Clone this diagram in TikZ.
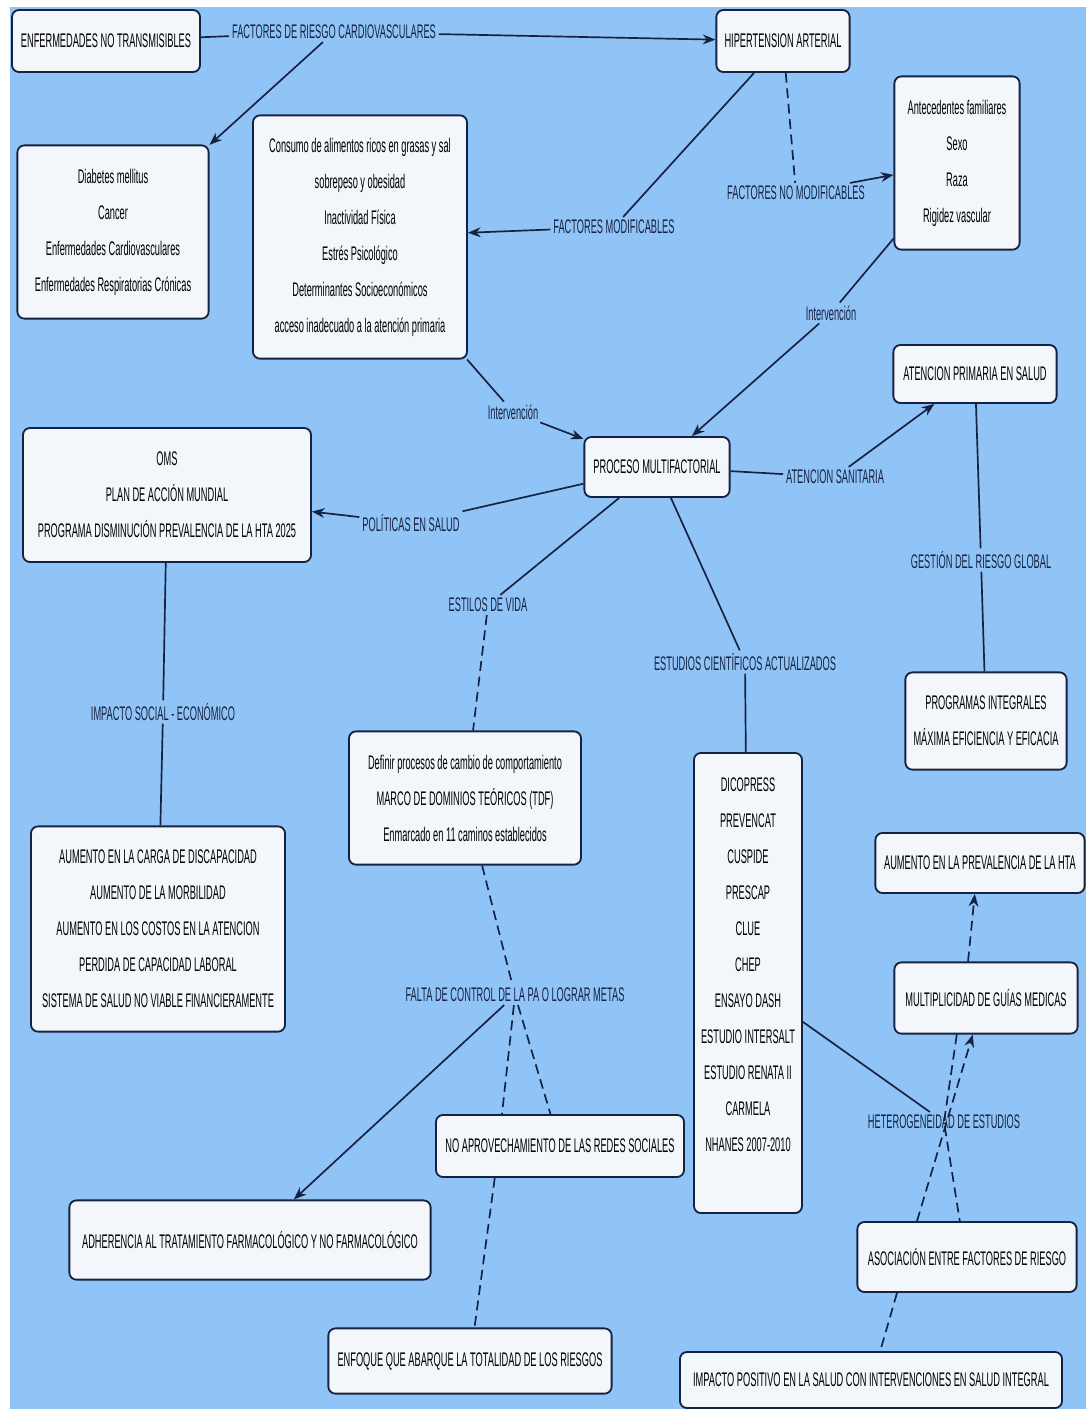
\documentclass[tikz,border=0pt]{standalone}
\usepackage{fontspec}
\setmainfont{Liberation Sans}[FakeStretch=0.47]
\usetikzlibrary{arrows.meta}
\definecolor{mapblue}{RGB}{145,196,246}
\definecolor{boxfill}{RGB}{243,246,250}
\definecolor{linkcol}{RGB}{22,34,66}
\tikzstyle{concept} = [rectangle, rounded corners=5pt, draw=linkcol, line width=1.3pt, fill=boxfill, align=center, text=black, font=\fontsize{14}{25.6}\selectfont]
\tikzstyle{linkword} = [text=linkcol, font=\fontsize{14}{17}\selectfont, inner sep=2pt]
\tikzstyle{link} = [draw=linkcol, line width=1.2pt]
\tikzstyle{dlink} = [link, dash pattern=on 7pt off 4pt]
\tikzstyle{arrow} = [link, ->, >={Stealth[length=9pt,width=7pt]}]

\begin{document}
\begin{tikzpicture}[x=0.025cm, y=-0.025cm]
\useasboundingbox (0,0) rectangle (1086,1409);
\fill[white] (0,0) rectangle (1086,1409);
\fill[mapblue] (10,7) rectangle (1086,1409);

\node (ent) [concept, minimum width=4.7cm, minimum height=1.55cm] at (106,41) {ENFERMEDADES NO TRANSMISIBLES};
\node (hta) [concept, minimum width=3.33cm, minimum height=1.55cm] at (783,41) {HIPERTENSION ARTERIAL};
\node (diab) [concept, minimum width=4.78cm, minimum height=4.33cm] at (113,232) {Diabetes mellitus\\Cancer\\Enfermedades Cardiovasculares\\Enfermedades Respiratorias Crónicas};
\node (cons) [concept, minimum width=5.35cm, minimum height=6.08cm] at (360,237) {Consumo de alimentos ricos en grasas y sal\\sobrepeso y obesidad\\Inactividad Física\\Estrés Psicológico\\Determinantes Socioeconómicos\\acceso inadecuado a la atención primaria};
\node (ante) [concept, minimum width=3.13cm, minimum height=4.33cm] at (957,163) {Antecedentes familiares\\Sexo\\Raza\\Rigidez vascular};
\node (aps) [concept, minimum width=4.08cm, minimum height=1.45cm] at (975,374) {ATENCION PRIMARIA EN SALUD};
\node (pm) [concept, minimum width=3.63cm, minimum height=1.5cm] at (657,467) {PROCESO MULTIFACTORIAL};
\node (oms) [concept, minimum width=7.2cm, minimum height=3.35cm] at (167,495) {OMS\\PLAN DE ACCIÓN MUNDIAL\\PROGRAMA DISMINUCIÓN PREVALENCIA DE LA HTA 2025};
\node (prog) [concept, minimum width=4.03cm, minimum height=2.43cm] at (986,721) {PROGRAMAS INTEGRALES\\MÁXIMA EFICIENCIA Y EFICACIA};
\node (defi) [concept, minimum width=5.8cm, minimum height=3.33cm] at (465,798) {Definir procesos de cambio de comportamiento\\MARCO DE DOMINIOS TEÓRICOS (TDF)\\Enmarcado en 11 caminos establecidos};
\node (estu) [concept, minimum width=2.7cm, minimum height=11.5cm] at (748,983) {DICOPRESS\\PREVENCAT\\CUSPIDE\\PRESCAP\\CLUE\\CHEP\\ENSAYO DASH\\ESTUDIO INTERSALT\\ESTUDIO RENATA II\\CARMELA\\NHANES 2007-2010\\~};
\node (aumhta) [concept, minimum width=5.23cm, minimum height=1.5cm] at (980,863) {AUMENTO EN LA PREVALENCIA DE LA HTA};
\node (carga) [concept, minimum width=6.35cm, minimum height=5.13cm] at (158,929) {AUMENTO EN LA CARGA DE DISCAPACIDAD\\AUMENTO DE LA MORBILIDAD\\AUMENTO EN LOS COSTOS EN LA ATENCION\\PERDIDA DE CAPACIDAD LABORAL\\SISTEMA DE SALUD NO VIABLE FINANCIERAMENTE};
\node (mult) [concept, minimum width=4.58cm, minimum height=1.78cm] at (986,998) {MULTIPLICIDAD DE GUÍAS MEDICAS};
\node (noap) [concept, minimum width=6.2cm, minimum height=1.55cm] at (560,1146) {NO APROVECHAMIENTO DE LAS REDES SOCIALES};
\node (adhe) [concept, minimum width=9.03cm, minimum height=1.98cm] at (250,1240) {ADHERENCIA AL TRATAMIENTO FARMACOLÓGICO Y NO FARMACOLÓGICO};
\node (asoc) [concept, minimum width=5.48cm, minimum height=1.75cm] at (967,1257) {ASOCIACIÓN ENTRE FACTORES DE RIESGO};
\node (enfo) [concept, minimum width=7.08cm, minimum height=1.63cm] at (470,1361) {ENFOQUE QUE ABARQUE LA TOTALIDAD DE LOS RIESGOS};
\node (impa) [concept, minimum width=9.55cm, minimum height=1.4cm] at (871,1380) {IMPACTO POSITIVO EN LA SALUD CON INTERVENCIONES EN SALUD INTEGRAL};

\node (frc) [linkword] at (334,32) {FACTORES DE RIESGO CARDIOVASCULARES};
\node (fmod) [linkword] at (614,227) {FACTORES MODIFICABLES};
\node (fnomod) [linkword] at (796,193) {FACTORES NO MODIFICABLES};
\node (intl) [linkword] at (513,412) {Intervención};
\node (intr) [linkword] at (831,313) {Intervención};
\node (asan) [linkword] at (835,477) {ATENCION SANITARIA};
\node (pols) [linkword] at (411,523) {POLÍTICAS EN SALUD};
\node (esti) [linkword] at (488,605) {ESTILOS DE VIDA};
\node (ecie) [linkword] at (745,662) {ESTUDIOS CIENTÍFICOS ACTUALIZADOS};
\node (gest) [linkword] at (981,560) {GESTIÓN DEL RIESGO GLOBAL};
\node (imso) [linkword] at (163,712) {IMPACTO SOCIAL - ECONÓMICO};
\node (falt) [linkword] at (515,995) {FALTA DE CONTROL DE LA PA O LOGRAR METAS};
\node (hete) [linkword] at (944,1122) {HETEROGENEIDAD DE ESTUDIOS};

\draw [link] (ent) -- (frc);
\draw [arrow] (frc) -- (hta);
\draw [arrow] (frc) -- (diab);
\draw [link] (hta) -- (fmod);
\draw [arrow] (fmod) -- (cons);
\draw [dlink] (hta) -- (fnomod);
\draw [arrow] (fnomod) -- (ante);
\draw [link] (cons) -- (intl);
\draw [arrow] (intl) -- (pm);
\draw [link] (ante) -- (intr);
\draw [arrow] (intr) -- (pm);
\draw [link] (pm) -- (asan);
\draw [arrow] (asan) -- (aps);
\draw [link] (pm) -- (pols);
\draw [arrow] (pols) -- (oms);
\draw [link] (pm) -- (esti);
\draw [dlink] (esti) -- (defi);
\draw [link] (pm) -- (ecie);
\draw [link] (ecie) -- (estu);
\draw [link] (aps) -- (gest);
\draw [link] (gest) -- (prog);
\draw [link] (oms) -- (imso);
\draw [link] (imso) -- (carga);
\draw [dlink] (defi) -- (falt);
\draw [dlink] (falt) -- (noap);
\draw [dlink] (falt) -- ([xshift=-1.45cm]noap.north);
\draw [arrow] (falt) -- (adhe);
\draw [dlink] ([xshift=-1.63cm]noap.south) -- (enfo);
\draw [link] (estu) -- (hete);
\draw [dlink] ([xshift=-0.73cm]mult.south) -- (hete.center) -- ([xshift=-0.18cm]asoc.north);
\draw [arrow, dash pattern=on 7pt off 4pt] ([xshift=-1.25cm]asoc.north) -- ([xshift=-0.33cm]mult.south);
\draw [arrow, dash pattern=on 7pt off 4pt] ([xshift=-0.45cm]mult.north) -- ([xshift=-0.13cm]aumhta.south);
\draw [dlink] ([xshift=-1.75cm]asoc.south) -- ([xshift=0.23cm]impa.north);
\end{tikzpicture}
\end{document}
